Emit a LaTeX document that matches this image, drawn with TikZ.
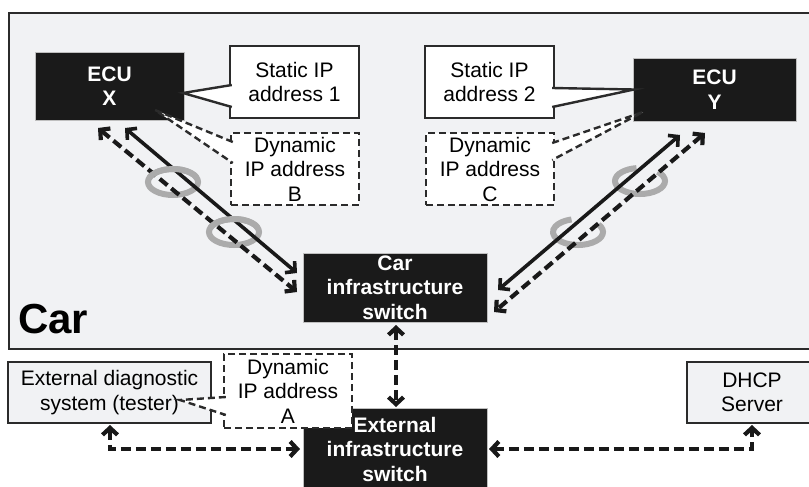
\documentclass[tikz,border=0pt]{standalone}
\usepackage{fontspec}
\setmainfont{Liberation Sans}
\usetikzlibrary{arrows.meta,calc}
\definecolor{bgcar}{HTML}{F1F2F4}
\definecolor{ringgray}{HTML}{ABABAB}
\definecolor{boxdark}{HTML}{1A1A1A}
\definecolor{edgec}{HTML}{2B2B2B}
\begin{document}
\begin{tikzpicture}[x=1pt,y=-1pt,
  txt/.style={font=\fontsize{21}{24.5}\selectfont, align=center, inner sep=0pt, outer sep=0pt},
  blackbox/.style={txt, font=\fontsize{21}{24.5}\selectfont\bfseries, text=white, fill=boxdark, draw=gray!50, line width=0.6pt},
  callout/.style={txt, draw=edgec, fill=white, line width=2.4pt},
  dcallout/.style={callout, dash pattern=on 7pt off 4pt},
  graybox/.style={txt, draw=edgec, fill=bgcar, line width=2.4pt},
  callline/.style={draw=edgec, line width=2.4pt, fill=white},
  dcallline/.style={callline, dash pattern=on 7pt off 4pt},
  link/.style={draw=black!90, line width=3.6pt, {Straight Barb[length=7pt,width=15pt]}-{Straight Barb[length=7pt,width=15pt]}},
  dlink/.style={link, line width=4.2pt, dash pattern=on 10pt off 5pt},
  ring/.style={draw=ringgray, line width=6pt},
]
\useasboundingbox (0,0) rectangle (809,487);
\fill[white] (0,0) rectangle (809,487);

% car region
\node[draw=edgec, fill=bgcar, line width=2.4pt, minimum width=807pt, minimum height=336pt, inner sep=0pt, anchor=north west] (car) at (8,12) {};
\node[anchor=base west, font=\fontsize{42}{42}\selectfont\bfseries, inner sep=0pt] (carlbl) at (18,333) {Car};

% main boxes
\node[blackbox, minimum width=149pt, minimum height=68pt] (ecux) at (109.5,86) {ECU\\X};
\node[blackbox, minimum width=163pt, minimum height=63pt] (ecuy) at (714.5,89.5) {ECU\\Y};
\node[blackbox, minimum width=184pt, minimum height=69pt] (carsw) at (395,287.5) {Car\\infrastructure\\switch};
\node[blackbox, minimum width=184pt, minimum height=82pt] (extsw) at (395,449) {External\\infrastructure\\switch};
\node[graybox, minimum width=203pt, minimum height=61pt] (tester) at (109.5,392.5) {External diagnostic\\system (tester)};
\node[graybox, minimum width=130pt, minimum height=61pt] (dhcp) at (752,392.5) {DHCP\\Server};

% rings (under the links)
\draw[ring] (173,182) ellipse [x radius=25, y radius=13];
\draw[ring] (234,232) ellipse [x radius=25, y radius=13];
\draw[ring] ([shift={(-45:25 and 13)}]640,181) arc [start angle=-45, end angle=262, x radius=25, y radius=13];
\draw[ring] ([shift={(-35:25 and 13)}]578,232) arc [start angle=-35, end angle=255, x radius=25, y radius=13];

% links ECU X <-> car switch
\draw[link] ($(ecux.south)+(15.5,8)$) -- ($(carsw.west)+(-6,-14.5)$);
\draw[dlink] ($(ecux.south)+(-11.5,8)$) -- ($(carsw.west)+(-6,4.5)$);
% links ECU Y <-> car switch
\draw[link] ($(ecuy.south)+(-34.5,14)$) -- ($(carsw.east)+(11,2.5)$);
\draw[dlink] ($(ecuy.south)+(-9.5,12)$) -- ($(carsw.east)+(7,24.5)$);

% ring fronts over the X links
\draw[ring] ([shift={(200:25 and 13)}]173,182) arc [start angle=200, end angle=340, x radius=25, y radius=13];
\draw[ring] ([shift={(200:25 and 13)}]234,232) arc [start angle=200, end angle=340, x radius=25, y radius=13];

% switch <-> switch, tester, dhcp
\draw[dlink] ($(carsw.south)+(1,3)$) -- ($(extsw.north)+(1,-1)$);
\draw[dlink] ($(tester.south)+(0.5,2)$) |- ($(extsw.west)+(-3,0)$);
\draw[dlink] ($(extsw.east)+(2,0)$) -| ($(dhcp.south)+(0,2)$);

% callouts
\node[callout, minimum width=129pt, minimum height=72pt] (s1) at (294.5,82) {Static IP\\address 1};
\node[dcallout, minimum width=128pt, minimum height=72pt] (db) at (295,169) {Dynamic\\IP address\\B};
\node[callout, minimum width=129pt, minimum height=72pt] (s2) at (489.5,82) {Static IP\\address 2};
\node[dcallout, minimum width=128pt, minimum height=72pt] (dc) at (490,169) {Dynamic\\IP address\\C};
\node[dcallout, minimum width=128pt, minimum height=74pt] (da) at (288,391) {Dynamic\\IP address\\A};

\coordinate (t1) at ($(ecux.east)+(-1,7)$);
\coordinate (tb) at ($(ecux.south)+(45.5,-10)$);
\coordinate (t2) at ($(ecuy.west)+(1,0)$);
\coordinate (tc) at ($(ecuy.south)+(-71.5,-9)$);
\coordinate (ta) at ($(tester.east)+(-31,7.5)$);

\draw[callline] ($(s1.north west)+(1.8,39)$) -- (t1) -- ($(s1.north west)+(1.8,61)$);
\draw[dcallline] ($(db.north west)+(1.8,9)$) -- (tb) -- ($(db.north west)+(1.8,30)$);
\draw[callline] ($(s2.north east)+(-1.8,42)$) -- (t2) -- ($(s2.north east)+(-1.8,61)$);
\draw[dcallline] ($(dc.north east)+(-1.8,10)$) -- (tc) -- ($(dc.north east)+(-1.8,27)$);
\draw[dcallline] ($(da.north west)+(1.8,43)$) -- (ta) -- ($(da.north west)+(1.8,61)$);
\end{tikzpicture}
\end{document}
